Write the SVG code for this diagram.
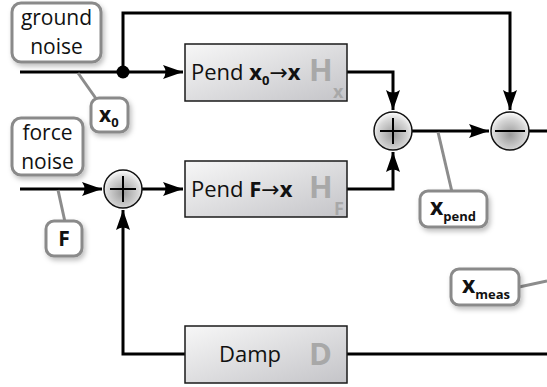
<svg xmlns="http://www.w3.org/2000/svg" width="547" height="387" viewBox="0 0 547 387">
  <style>
    .wire { fill: none; stroke: #000; stroke-width: 3; }
    .leader { fill: none; stroke: #8c8c8c; stroke-width: 3; }
    .tag { fill: #fff; stroke: #8a8a8a; stroke-width: 3; filter: url(#shadow); }
    .block { fill: url(#blockFill); stroke: #1a1a1a; stroke-width: 1.5; }
    .node { fill: url(#nodeFill); stroke: #111; stroke-width: 1.5; }
    .sign { stroke: #000; stroke-width: 2; }
    .txt { font-family: "Open Sans", "Liberation Sans", sans-serif; fill: #111; }
    .big { font-size: 22px; }
    .lbl { font-size: 21px; }
    .bold { font-weight: bold; }
    .arr { font-family: "DejaVu Sans", sans-serif; font-weight: normal; }
    .ghost { font-family: "Open Sans", "Liberation Sans", sans-serif; font-weight: bold; fill: #a8a8a8; }
  </style>
  <defs>
    <linearGradient id="blockFill" x1="0" y1="0" x2="1" y2="1">
      <stop offset="0" stop-color="#f7f7f7"/>
      <stop offset="1" stop-color="#c4c4c8"/>
    </linearGradient>
    <radialGradient id="nodeFill" cx="0.5" cy="0.6" r="0.6">
      <stop offset="0" stop-color="#9a9a9a"/>
      <stop offset="0.7" stop-color="#d8d8d8"/>
      <stop offset="1" stop-color="#ffffff"/>
    </radialGradient>
    <filter id="shadow" x="-30%" y="-30%" width="160%" height="160%">
      <feDropShadow dx="2" dy="3" stdDeviation="2.5" flood-color="#000" flood-opacity="0.25"/>
    </filter>
    <marker id="arrow" markerUnits="userSpaceOnUse" markerWidth="22" markerHeight="16" viewBox="-20 -8 22 16" refX="0" refY="0" orient="auto">
      <path d="M0,0 L-20,-7 Q-15,0 -20,7 Z" fill="#000"/>
    </marker>
  </defs>

  <!-- connectors -->
  <g id="connectors">
    <path class="wire" d="M20,72 H183" marker-end="url(#arrow)"/>
    <path class="wire" d="M123,72 V13 H510 V110" marker-end="url(#arrow)"/>
    <path class="wire" d="M347,72 H393 V110" marker-end="url(#arrow)"/>
    <path class="wire" d="M20,189 H102" marker-end="url(#arrow)"/>
    <path class="wire" d="M142,189 H183" marker-end="url(#arrow)"/>
    <path class="wire" d="M347,189 H393 V152" marker-end="url(#arrow)"/>
    <path class="wire" d="M412,131 H489" marker-end="url(#arrow)"/>
    <path class="wire" d="M529,131 H547"/>
    <path class="wire" d="M185,354 H123 V210" marker-end="url(#arrow)"/>
    <path class="wire" d="M347,354 H547"/>
    <circle cx="123" cy="72" r="6.5" fill="#000"/>
    <!-- signal tag leaders -->
    <path class="leader" d="M78,73 L97,100"/>
    <path class="leader" d="M58,190 L65,222"/>
    <path class="leader" d="M438,132 L452,192"/>
    <path class="leader" d="M519,287 L547,281"/>
  </g>

  <g id="ground-noise">
    <rect class="tag" x="12" y="3" width="89" height="59" rx="9"/>
    <text class="txt lbl" x="56.5" y="25" text-anchor="middle">ground</text>
    <text class="txt lbl" x="56.5" y="54" text-anchor="middle">noise</text>
  </g>

  <g id="force-noise">
    <rect class="tag" x="12" y="118" width="71" height="57" rx="9"/>
    <text class="txt lbl" x="47.5" y="140" text-anchor="middle">force</text>
    <text class="txt lbl" x="47.5" y="169" text-anchor="middle">noise</text>
  </g>

  <g id="tag-x0">
    <rect class="tag" x="91" y="98" width="37" height="34" rx="8"/>
    <text class="txt bold" x="99" y="122" font-size="21">x<tspan font-size="13" dy="5">0</tspan></text>
  </g>

  <g id="tag-F">
    <rect class="tag" x="46" y="221" width="36" height="35" rx="8"/>
    <text class="txt bold" x="64" y="246" font-size="21" text-anchor="middle">F</text>
  </g>

  <g id="tag-xpend">
    <rect class="tag" x="420" y="191" width="67" height="36" rx="8"/>
    <text class="txt bold" x="430" y="215" font-size="23">x<tspan font-size="13" dy="6">pend</tspan></text>
  </g>

  <g id="tag-xmeas">
    <rect class="tag" x="451" y="269" width="68" height="36" rx="8"/>
    <text class="txt bold" x="462" y="293" font-size="23">x<tspan font-size="13" dy="6">meas</tspan></text>
  </g>

  <g id="pend-x0">
    <rect class="block" x="185" y="44" width="162" height="57"/>
    <text class="txt big" x="191" y="80">Pend <tspan class="bold">x</tspan><tspan class="bold" font-size="13" dy="5">0</tspan><tspan class="arr" dy="-5">→</tspan><tspan class="bold">x</tspan></text>
    <text class="ghost" x="309" y="81" font-size="31">H</text>
    <text class="ghost" x="333" y="98" font-size="18">x</text>
  </g>

  <g id="pend-F">
    <rect class="block" x="185" y="161" width="162" height="56"/>
    <text class="txt big" x="191" y="197">Pend <tspan class="bold">F</tspan><tspan class="arr">→</tspan><tspan class="bold">x</tspan></text>
    <text class="ghost" x="309" y="198" font-size="31">H</text>
    <text class="ghost" x="334" y="215" font-size="18">F</text>
  </g>

  <g id="damp">
    <rect class="block" x="185" y="326" width="162" height="57"/>
    <text class="txt big" x="219" y="362">Damp</text>
    <text class="ghost" x="309" y="365" font-size="31">D</text>
  </g>

  <g id="sum-force">
    <circle class="node" cx="123" cy="189" r="19"/>
    <path class="sign" d="M110,189 H136 M123,176 V202"/>
  </g>

  <g id="sum-pend">
    <circle class="node" cx="393" cy="131" r="19"/>
    <path class="sign" d="M380,131 H406 M393,118 V144"/>
  </g>

  <g id="diff-meas">
    <circle class="node" cx="510" cy="131" r="19"/>
    <path class="sign" d="M495,131 H525"/>
  </g>
</svg>
